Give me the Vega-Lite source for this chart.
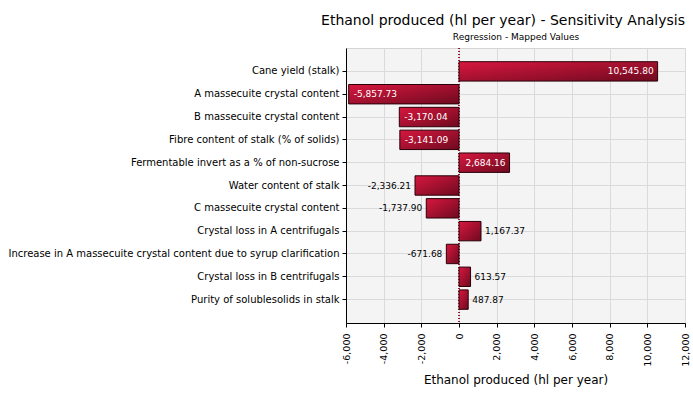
{
  "$schema": "https://vega.github.io/schema/vega-lite/v6.json",
  "width": 339,
  "height": 275,
  "autosize": "none",
  "padding": {"left": 346, "top": 48, "right": 8, "bottom": 71},
  "background": "white",
  "config": {
    "font": "DejaVu Sans",
    "view": {"fill": "#f4f4f4", "stroke": "#d4d4d4"},
    "locale": {"number": {"decimal": ".", "thousands": ",", "grouping": [3], "currency": ["$", ""], "minus": "-"}}
  },
  "title": {
    "text": "Ethanol produced (hl per year) - Sensitivity Analysis",
    "anchor": "end",
    "frame": "group",
    "fontSize": 14,
    "fontWeight": "normal",
    "color": "#000000",
    "offset": 4
  },
  "data": {
    "values": [
      {"input": "Cane yield (stalk)", "value": 10545.80},
      {"input": "A massecuite crystal content", "value": -5857.73},
      {"input": "B massecuite crystal content", "value": -3170.04},
      {"input": "Fibre content of stalk (% of solids)", "value": -3141.09},
      {"input": "Fermentable invert as a % of non-sucrose", "value": 2684.16},
      {"input": "Water content of stalk", "value": -2336.21},
      {"input": "C massecuite crystal content", "value": -1737.90},
      {"input": "Crystal loss in A centrifugals", "value": 1167.37},
      {"input": "Increase in A massecuite crystal content due to syrup clarification", "value": -671.68},
      {"input": "Crystal loss in B centrifugals", "value": 613.57},
      {"input": "Purity of solublesolids in stalk", "value": 487.87}
    ]
  },
  "encoding": {
    "y": {
      "field": "input",
      "type": "nominal",
      "sort": null,
      "scale": {"paddingInner": 0.15, "paddingOuter": 0.6},
      "axis": {
        "title": null,
        "bandPosition": 0.5,
        "grid": true,
        "gridColor": "#dadada",
        "domainColor": "#000000",
        "tickColor": "#000000",
        "tickSize": 4,
        "labelFontSize": 10,
        "labelColor": "#000000",
        "labelPadding": 3,
        "labelLimit": 400
      }
    }
  },
  "layer": [
    {
      "mark": {"type": "rule", "color": "#a0102e", "strokeDash": [1, 2], "strokeWidth": 1},
      "encoding": {
        "x": {"datum": 0, "type": "quantitative", "scale": {"domain": [-6000, 12000]}, "axis": null},
        "y": null
      }
    },
    {
      "mark": {
        "type": "bar",
        "stroke": "#2a0008",
        "strokeWidth": 1,
        "color": {
          "gradient": "linear",
          "x1": 0, "y1": 0, "x2": 1, "y2": 1,
          "stops": [
            {"offset": 0, "color": "#d8173f"},
            {"offset": 1, "color": "#6e0a1f"}
          ]
        }
      },
      "encoding": {
        "x": {
          "field": "value",
          "type": "quantitative",
          "scale": {"domain": [-6000, 12000], "nice": false, "zero": true},
          "axis": {
            "title": "Ethanol produced (hl per year)",
            "titleFontSize": 12,
            "titleFontWeight": "normal",
            "titleColor": "#000000",
            "titlePadding": 8,
            "values": [-6000, -4000, -2000, 0, 2000, 4000, 6000, 8000, 10000, 12000],
            "format": ",d",
            "labelAngle": 270,
            "labelFontSize": 9.5,
            "labelColor": "#000000",
            "labelPadding": 6,
            "labelAlign": "right",
            "labelBaseline": "middle",
            "labelOverlap": false,
            "grid": true,
            "gridColor": "#dadada",
            "domainColor": "#000000",
            "tickColor": "#000000",
            "tickSize": 4
          }
        },
        "x2": {"datum": 0}
      }
    },
    {
      "transform": [{"filter": "datum.value < -2500"}],
      "mark": {"type": "text", "align": "left", "dx": 5, "fontSize": 9, "color": "#ffffff"},
      "encoding": {
        "x": {"field": "value", "type": "quantitative", "axis": null},
        "text": {"field": "value", "type": "quantitative", "format": ",.2f"}
      }
    },
    {
      "transform": [{"filter": "datum.value > 2500"}],
      "mark": {"type": "text", "align": "right", "dx": -4, "fontSize": 9, "color": "#ffffff"},
      "encoding": {
        "x": {"field": "value", "type": "quantitative", "axis": null},
        "text": {"field": "value", "type": "quantitative", "format": ",.2f"}
      }
    },
    {
      "transform": [{"filter": "datum.value < 0 && datum.value >= -2500"}],
      "mark": {"type": "text", "align": "right", "dx": -4, "fontSize": 9, "color": "#000000"},
      "encoding": {
        "x": {"field": "value", "type": "quantitative", "axis": null},
        "text": {"field": "value", "type": "quantitative", "format": ",.2f"}
      }
    },
    {
      "transform": [{"filter": "datum.value > 0 && datum.value <= 2500"}],
      "mark": {"type": "text", "align": "left", "dx": 4, "fontSize": 9, "color": "#000000"},
      "encoding": {
        "x": {"field": "value", "type": "quantitative", "axis": null},
        "text": {"field": "value", "type": "quantitative", "format": ",.2f"}
      }
    },
    {
      "mark": {"type": "rule", "opacity": 0},
      "encoding": {
        "x": {
          "datum": 0,
          "type": "quantitative",
          "axis": {
            "orient": "top",
            "title": "Regression - Mapped Values",
            "titleFontSize": 9,
            "titleFontWeight": "normal",
            "titleColor": "#000000",
            "titlePadding": 7,
            "labels": false,
            "ticks": false,
            "domain": false,
            "grid": false
          }
        },
        "y": null
      }
    }
  ],
  "resolve": {"axis": {"x": "independent"}}
}
